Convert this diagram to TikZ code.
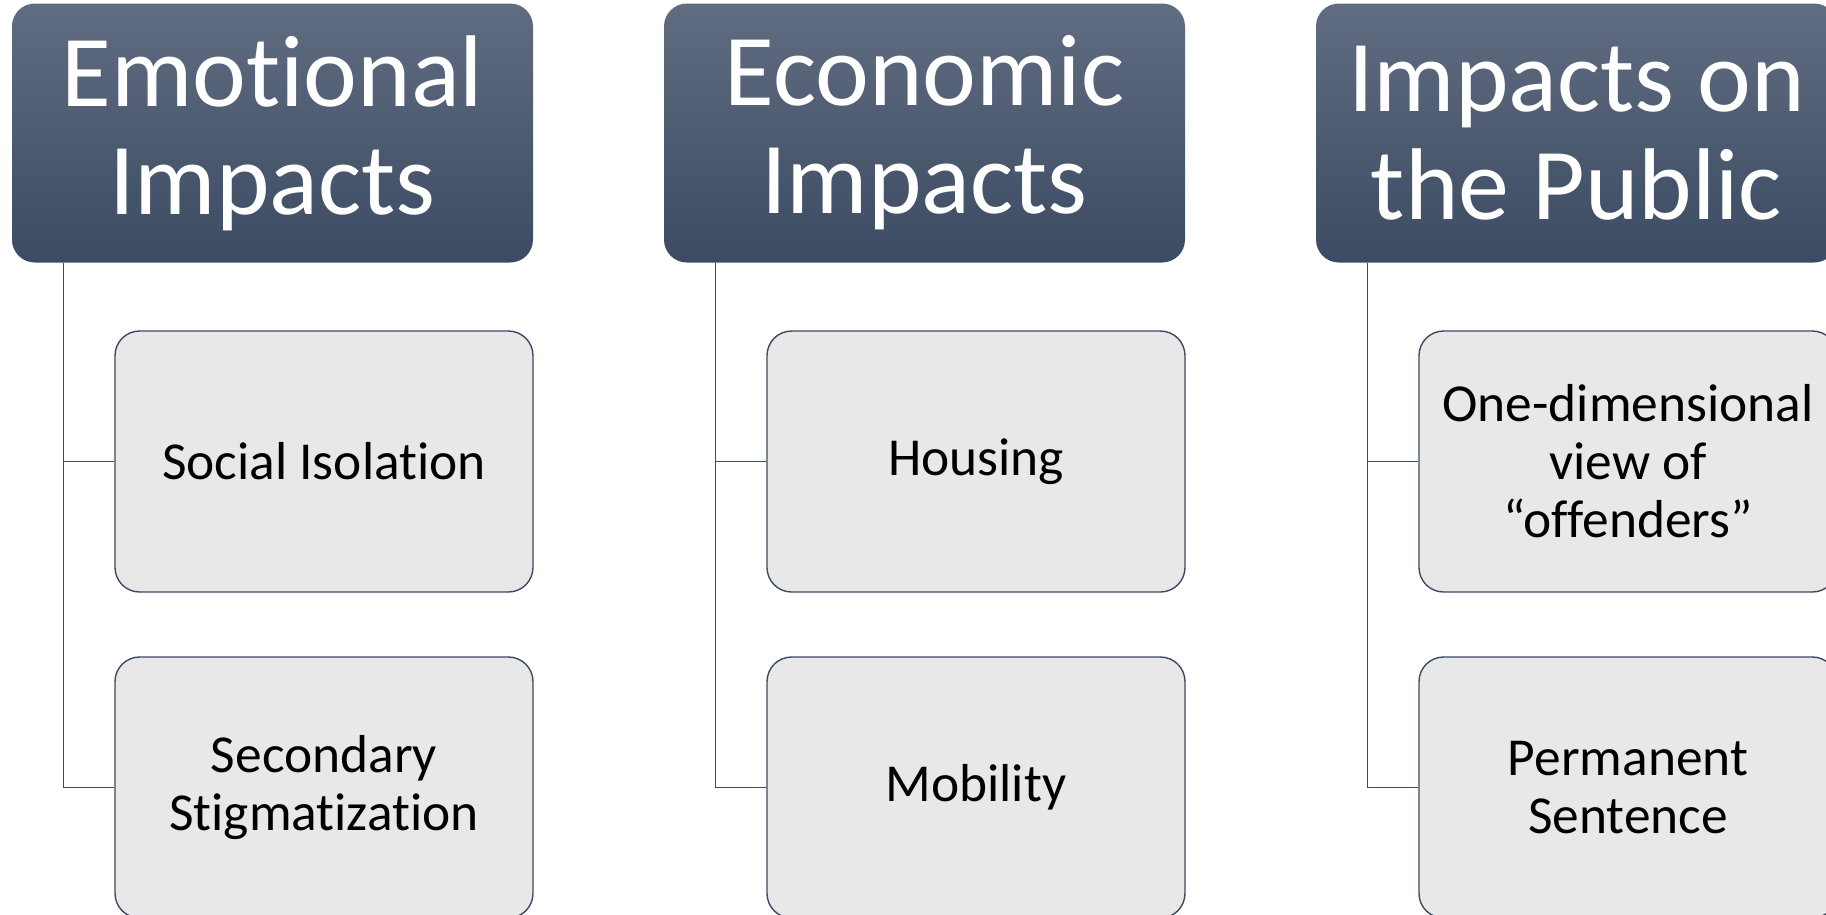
\documentclass[tikz,border=0pt]{standalone}
\usepackage{fontspec}
\setmainfont{Carlito}[Ligatures={NoCommon}]
\usepackage{tikz}
\usepackage{xcolor}
\definecolor{slatetop}{RGB}{96,108,128}
\definecolor{slatebot}{RGB}{60,75,99}
\definecolor{boxgray}{RGB}{232,232,232}
\tikzstyle{head}=[rounded corners=6.5pt, top color=slatetop, bottom color=slatebot, text=white, inner sep=0pt, minimum width=5.21cm, minimum height=2.59cm, align=center, font=\fontsize{29}{30.7}\selectfont]
\tikzstyle{item}=[draw=slatebot, fill=boxgray, rounded corners=7pt, inner sep=0pt, minimum width=4.18cm, minimum height=2.61cm, align=center, font=\fontsize{15.2}{16.5}\selectfont]
\tikzstyle{link}=[draw=slatebot, line width=0.4pt]

\begin{document}
\begin{tikzpicture}[line width=0.4pt]%
	\useasboundingbox (0,0) rectangle (18.26,-9.14);
	\clip (0,0) rectangle (18.26,-9.14);

	\begin{scope}
		\draw  (2.725,-1.33)   node (Head_1)  [head]  {Emotional\\Impacts};
		\draw  (3.24,-4.615)   node (Item_1A) [item]  {Social Isolation};
		\draw  (3.24,-7.875)   node (Item_1B) [item]  {Secondary\\Stigmatization};

		\draw [link] (Head_1.south west) ++(0.52,0) |- (Item_1B.west);
		\draw [link] (Head_1.south west) ++(0.52,0) |- (Item_1A.west);
	\end{scope}

	\begin{scope}[xshift=6.52cm]
		\draw  (2.725,-1.33)   node (Head_2)  [head]  {Economic\\Impacts};
		\draw  (3.24,-4.615)   node (Item_2A) [item]  {Housing};
		\draw  (3.24,-7.875)   node (Item_2B) [item]  {Mobility};

		\draw [link] (Head_2.south west) ++(0.52,0) |- (Item_2B.west);
		\draw [link] (Head_2.south west) ++(0.52,0) |- (Item_2A.west);
	\end{scope}

	\begin{scope}[xshift=13.04cm]
		\draw  (2.725,-1.33)   node (Head_3)  [head]  {Impacts on\\the Public};
		\draw  (3.24,-4.615)   node (Item_3A) [item]  {One-dimensional\\view of\\“offenders”};
		\draw  (3.24,-7.875)   node (Item_3B) [item]  {Permanent\\Sentence};

		\draw [link] (Head_3.south west) ++(0.52,0) |- (Item_3B.west);
		\draw [link] (Head_3.south west) ++(0.52,0) |- (Item_3A.west);
	\end{scope}

\end{tikzpicture}
\end{document}
